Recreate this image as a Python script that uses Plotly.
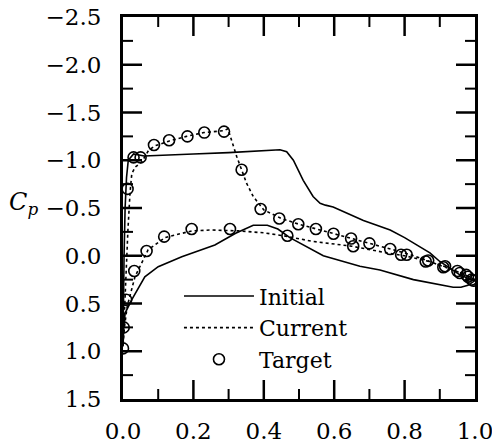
import plotly.graph_objects as go

# Initial distribution: upper surface TE -> LE, then lower surface LE -> TE
initial_x = [1.0, 0.99, 0.957, 0.9, 0.872, 0.8, 0.759, 0.683, 0.64, 0.597, 0.575, 0.56, 0.54,
             0.512, 0.484, 0.465, 0.446, 0.40, 0.30, 0.20, 0.10, 0.06, 0.03, 0.015, 0.01,
             0.006, 0.003, 0.001, 0.0,
             0.002, 0.006, 0.025, 0.062, 0.10, 0.167, 0.261, 0.32, 0.37, 0.41, 0.44,
             0.474, 0.52, 0.569, 0.673, 0.73, 0.825, 0.87, 0.938, 0.96, 0.98, 1.0]
initial_cp = [0.26, 0.25, 0.20, 0.06, -0.03, -0.19, -0.27, -0.37, -0.44, -0.51, -0.53, -0.55, -0.62,
              -0.79, -1.0, -1.09, -1.11, -1.10, -1.08, -1.065, -1.05, -1.045, -1.066, -1.0, -0.82,
              -0.5, 0.0, 0.5, 0.95,
              0.75, 0.60, 0.46, 0.22, 0.115, 0.01, -0.113, -0.235, -0.32, -0.32, -0.28,
              -0.19, -0.10, 0.0, 0.11, 0.15, 0.25, 0.28, 0.33, 0.33, 0.31, 0.26]

# Current distribution
current_x = [1.0, 0.97, 0.94, 0.9, 0.85, 0.8, 0.75, 0.7, 0.65, 0.6, 0.55, 0.5, 0.45, 0.40,
             0.37, 0.351, 0.323, 0.31, 0.298, 0.287, 0.23, 0.18, 0.13, 0.09, 0.072, 0.053,
             0.035, 0.025, 0.02, 0.014, 0.008, 0.003, 0.0,
             0.004, 0.012, 0.034, 0.071, 0.119, 0.195, 0.25, 0.33, 0.40, 0.455, 0.54, 0.65,
             0.75, 0.8, 0.87, 0.92, 0.96, 1.0]
current_cp = [0.25, 0.20, 0.15, 0.10, 0.03, -0.03, -0.08, -0.13, -0.18, -0.23, -0.28, -0.33, -0.39, -0.48,
              -0.62, -0.76, -1.04, -1.20, -1.33, -1.31, -1.29, -1.25, -1.20, -1.15, -1.10, -0.98,
              -0.93, -0.86, -0.66, -0.27, 0.2, 0.6, 0.95,
              0.75, 0.53, 0.22, -0.06, -0.19, -0.26, -0.27, -0.26, -0.24, -0.21, -0.15, -0.10,
              -0.03, 0.0, 0.06, 0.12, 0.18, 0.25]

# Target distribution (circles)
target_x = [0.0, 0.002, 0.013, 0.03, 0.05, 0.088, 0.131, 0.183, 0.231, 0.287, 0.337, 0.391, 0.444,
            0.498, 0.548, 0.598, 0.648, 0.70, 0.759, 0.806, 0.867, 0.915, 0.95, 0.975, 0.99,
            0.009, 0.032, 0.067, 0.117, 0.195, 0.304, 0.467, 0.654, 0.79, 0.86, 0.91, 0.957, 0.98, 0.995]
target_cp = [0.97, 0.75, -0.70, -1.03, -1.03, -1.16, -1.21, -1.25, -1.29, -1.30, -0.90, -0.49, -0.39,
             -0.33, -0.28, -0.23, -0.18, -0.13, -0.07, -0.01, 0.05, 0.11, 0.16, 0.20, 0.25,
             0.46, 0.16, -0.05, -0.20, -0.28, -0.28, -0.21, -0.10, -0.01, 0.06, 0.12, 0.18, 0.22, 0.26]

# Axis limits and tick positions (data units)
x_lim = [0.0, 1.0]
y_lim = [1.5, -2.5]          # reversed: positive Cp at the bottom
x_major_ticks = [0.2, 0.4, 0.6, 0.8]
x_minor_ticks = [0.1, 0.3, 0.5, 0.7, 0.9]
y_major_ticks = [-2.0, -1.5, -1.0, -0.5, 0.0, 0.5, 1.0]
y_minor_ticks = [-2.25, -1.75, -1.25, -0.75, -0.25, 0.25, 0.75, 1.25]

FONT = "DejaVu Serif"
W, H = 492, 444
M_L, M_R, M_T, M_B = 123, 17, 17, 45
PLOT_W, PLOT_H = W - M_L - M_R, H - M_T - M_B
MAJOR_PX, MINOR_PX = 19, 10
# tick lengths expressed in data units of each axis
x_per_px = (x_lim[1] - x_lim[0]) / PLOT_H * 0 + (x_lim[1] - x_lim[0]) / PLOT_W
y_per_px = abs(y_lim[1] - y_lim[0]) / PLOT_H

fig = go.Figure()
fig.add_trace(go.Scatter(x=initial_x, y=initial_cp, mode="lines", name="Initial",
                         line=dict(color="black", width=1.6)))
fig.add_trace(go.Scatter(x=current_x, y=current_cp, mode="lines", name="Current",
                         line=dict(color="black", width=1.6, dash="dot")))
fig.add_trace(go.Scatter(x=target_x, y=target_cp, mode="markers", name="Target",
                         marker=dict(symbol="circle-open", size=11, color="black",
                                     line=dict(width=1.6, color="black"))))

# inward tick marks on all four sides, drawn as short line segments in data space
def tick_lines(values, px_len, width):
    xs, ys = [], []
    dy = px_len * y_per_px
    dx = px_len * x_per_px
    for v in values["x"]:
        xs += [v, v, None, v, v, None]
        ys += [y_lim[0], y_lim[0] - dy, None, y_lim[1], y_lim[1] + dy, None]
    for v in values["y"]:
        xs += [x_lim[0], x_lim[0] + dx, None, x_lim[1], x_lim[1] - dx, None]
        ys += [v, v, None, v, v, None]
    fig.add_trace(go.Scatter(x=xs, y=ys, mode="lines", showlegend=False, hoverinfo="skip",
                             connectgaps=False, line=dict(color="black", width=width)))

tick_lines({"x": x_major_ticks, "y": y_major_ticks}, MAJOR_PX, 2.5)
tick_lines({"x": x_minor_ticks, "y": y_minor_ticks}, MINOR_PX, 2)

axis_common = dict(showline=True, linewidth=3, linecolor="black", mirror=True,
                   ticks="", showgrid=False, zeroline=False, tickformat=".1f",
                   automargin=False, ticklabeloverflow="allow",
                   tickfont=dict(family=FONT, size=23, color="black"))

fig.update_layout(
    template="none",
    xaxis=dict(range=x_lim, tickmode="linear", tick0=0, dtick=0.2,
               ticklabelstandoff=9, **axis_common),
    yaxis=dict(range=y_lim, tickmode="linear", tick0=-2.5, dtick=0.5,
               ticklabelstandoff=14, **axis_common),
)

fig.add_annotation(text="<i>C</i><sub><i>p</i></sub>", xref="paper", yref="y",
                   x=-0.33, y=-0.55, showarrow=False,
                   font=dict(family=FONT, size=24, color="black"))

fig.update_layout(
    width=W, height=H,
    margin=dict(l=M_L, r=M_R, t=M_T, b=M_B, autoexpand=False),
    plot_bgcolor="white", paper_bgcolor="white",
    font=dict(family=FONT, size=24, color="black"),
    showlegend=True,
    legend=dict(x=0.159, y=0.324, xanchor="left", yanchor="top",
                bgcolor="rgba(0,0,0,0)", itemwidth=70,
                font=dict(family=FONT, size=22, color="black"),
                tracegroupgap=0),
)

fig.write_html("out.html", config={"displayModeBar": False},
               post_script="document.body.style.margin='0';document.body.style.padding='0';")
